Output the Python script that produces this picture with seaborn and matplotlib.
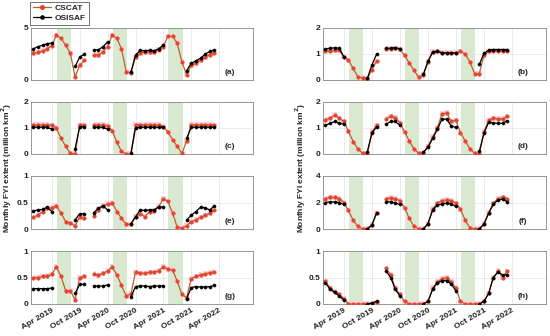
import numpy as np
import pandas as pd
import matplotlib
matplotlib.use("Agg")
import matplotlib.pyplot as plt
from matplotlib.lines import Line2D
import seaborn as sns

nan = np.nan
months = pd.date_range("2018-12-01", periods=40, freq="MS")
tick_dates = pd.date_range("2019-04-01", "2022-04-01", freq="6MS")
tick_labels = ["Apr 2019", "Oct 2019", "Apr 2020", "Oct 2020", "Apr 2021", "Oct 2021", "Apr 2022"]
bands = [("2019-05-05", "2019-08-05"), ("2020-05-05", "2020-08-05"), ("2021-05-05", "2021-08-05")]
series_names = ["CSCAT", "OSISAF"]
ylabel = "Monthly FYI extent (million km$^{\\mathbf{2}}$)"

cs_a = [2.55, 2.65, 2.8, 3.0, 3.3, 4.3, 4.0, 3.35, 2.55, 0.3, 1.4, 1.9, nan,
        2.4, 2.4, 2.7, 3.2, 4.3, 4.0, 3.0, 0.8, 0.7, 2.2, 2.6, 2.7, 2.7, 2.7, 2.9, 3.2,
        4.2, 4.2, 3.55, 1.75, 0.5, 1.4, 1.6, 1.9, 2.2, 2.45, 2.6]
os_a = [3.0, 3.2, 3.35, 3.5, 3.55, nan, nan, nan, nan, 1.3, 2.2, 2.5, nan,
        2.9, 2.9, 3.2, 3.65, nan, nan, nan, nan, 0.75, 2.4, 2.85, 2.8, 2.85, 2.8, 3.0, 3.35,
        nan, nan, nan, nan, 0.9, 1.6, 1.85, 2.1, 2.5, 2.75, 2.9]

cs_b = [1.12, 1.12, 1.15, 1.15, 0.9, 0.76, 0.45, 0.13, 0.08, 0.05, 0.4, 0.72, nan,
        1.2, 1.2, 1.22, 1.18, 0.95, 0.65, 0.38, 0.1, 0.2, 0.7, 1.08, 1.1, 1.05, 1.05, 1.05, 1.05,
        1.1, 1.0, 0.7, 0.25, 0.25, 0.95, 1.1, 1.12, 1.12, 1.12, 1.12]
os_b = [1.2, 1.22, 1.24, 1.22, 0.9, nan, nan, nan, nan, 0.06, 0.57, 1.0, nan,
        1.22, 1.22, 1.25, 1.2, nan, nan, nan, nan, 0.22, 0.72, 1.08, 1.1, 1.05, 1.04, 1.04, 1.04,
        nan, nan, nan, nan, 0.6, 1.02, 1.15, 1.17, 1.17, 1.17, 1.17]

cs_c = [1.12, 1.12, 1.12, 1.12, 1.1, 1.0, 0.6, 0.3, 0.02, 0.0, 1.1, 1.12, nan,
        1.12, 1.12, 1.12, 1.08, 0.9, 0.45, 0.1, 0.0, 0.0, 1.12, 1.12, 1.12, 1.12, 1.12, 1.12, 1.05,
        0.85, 0.55, 0.3, 0.02, 0.5, 1.12, 1.12, 1.12, 1.12, 1.12, 1.12]
os_c = [1.03, 1.03, 1.03, 1.03, 0.95, nan, nan, nan, nan, 0.2, 1.05, 1.05, nan,
        1.03, 1.03, 1.03, 0.95, nan, nan, nan, nan, 0.02, 1.0, 1.03, 1.03, 1.03, 1.03, 1.03, 1.03,
        nan, nan, nan, nan, 0.6, 1.03, 1.03, 1.03, 1.03, 1.03, 1.03]

cs_d = [1.32, 1.38, 1.5, 1.38, 1.25, 0.87, 0.48, 0.2, 0.03, 0.0, 0.85, 1.1, nan,
        1.35, 1.45, 1.4, 1.2, 0.85, 0.5, 0.2, 0.03, 0.03, 0.3, 0.65, 1.0, 1.55, 1.58, 1.25, 1.3,
        0.82, 0.5, 0.2, 0.03, 0.0, 0.85, 1.3, 1.38, 1.35, 1.35, 1.45]
os_d = [1.1, 1.18, 1.25, 1.18, 1.15, nan, nan, nan, nan, 0.08, 0.8, 1.05, nan,
        1.15, 1.25, 1.25, 1.1, nan, nan, nan, nan, 0.08, 0.25, 0.6, 0.95, 1.35, 1.33, 1.08, 1.02,
        nan, nan, nan, nan, 0.1, 0.8, 1.22, 1.2, 1.18, 1.18, 1.28]

cs_e = [0.22, 0.26, 0.33, 0.39, 0.40, 0.44, 0.30, 0.14, 0.11, 0.06, 0.22, 0.20, nan,
        0.25, 0.36, 0.44, 0.47, 0.49, 0.33, 0.20, 0.09, 0.09, 0.23, 0.29, 0.23, 0.33, 0.34, 0.42, 0.57,
        0.52, 0.30, 0.04, 0.02, 0.06, 0.14, 0.17, 0.22, 0.26, 0.30, 0.36]
os_e = [0.34, 0.36, 0.37, 0.41, 0.33, nan, nan, nan, nan, 0.17, 0.29, 0.29, nan,
        0.31, 0.39, 0.44, 0.36, nan, nan, nan, nan, 0.10, 0.23, 0.36, 0.35, 0.36, 0.36, 0.42, 0.41,
        nan, nan, nan, nan, 0.17, 0.26, 0.33, 0.41, 0.40, 0.36, 0.44]

cs_f = [2.3, 2.38, 2.38, 2.3, 2.0, 1.4, 0.65, 0.2, 0.02, 0.0, 0.3, 1.2, nan,
        2.3, 2.35, 2.28, 2.15, 1.6, 0.8, 0.2, 0.02, 0.0, 0.4, 1.5, 1.95, 2.15, 2.2, 2.15, 1.95,
        1.5, 0.65, 0.1, 0.0, 0.0, 0.4, 1.2, 1.95, 2.3, 2.4, 2.3]
os_f = [2.0, 2.05, 2.05, 2.0, 1.85, nan, nan, nan, nan, 0.0, 0.3, 1.22, nan,
        2.05, 2.05, 1.95, 1.85, nan, nan, nan, nan, 0.0, 0.4, 1.45, 1.8, 1.9, 1.95, 1.9, 1.7,
        nan, nan, nan, nan, 0.0, 0.35, 1.2, 1.85, 2.2, 2.25, 2.05]

cs_g = [0.50, 0.50, 0.52, 0.53, 0.56, 0.70, 0.52, 0.25, 0.25, 0.08, 0.50, 0.52, nan,
        0.57, 0.54, 0.58, 0.62, 0.70, 0.55, 0.35, 0.15, 0.19, 0.60, 0.58, 0.58, 0.60, 0.60, 0.63, 0.70,
        0.66, 0.64, 0.43, 0.18, 0.12, 0.48, 0.52, 0.55, 0.57, 0.59, 0.61]
os_g = [0.29, 0.29, 0.29, 0.29, 0.30, nan, nan, nan, nan, 0.20, 0.37, 0.37, nan,
        0.34, 0.34, 0.34, 0.36, nan, nan, nan, nan, 0.13, 0.33, 0.34, 0.34, 0.33, 0.34, 0.34, 0.34,
        nan, nan, nan, nan, 0.10, 0.31, 0.33, 0.32, 0.32, 0.33, 0.35]

cs_h = [0.43, 0.30, 0.23, 0.18, 0.10, 0.0, 0.0, 0.0, 0.0, 0.0, 0.0, 0.03, nan,
        0.67, 0.55, 0.30, 0.18, 0.05, 0.0, 0.0, 0.0, 0.0, 0.05, 0.30, 0.42, 0.48, 0.50, 0.42, 0.30,
        0.05, 0.0, 0.0, 0.0, 0.0, 0.05, 0.20, 0.50, 0.62, 0.50, 0.62]
os_h = [0.40, 0.28, 0.22, 0.15, 0.08, nan, nan, nan, nan, 0.0, 0.02, 0.05, nan,
        0.62, 0.50, 0.28, 0.15, nan, nan, nan, nan, 0.0, 0.05, 0.28, 0.40, 0.44, 0.44, 0.38, 0.25,
        nan, nan, nan, nan, 0.0, 0.05, 0.20, 0.50, 0.60, 0.55, 0.55]

panels = [
    ("(a)", cs_a, os_a, (0, 5), [0, 5], ["0", "5"]),
    ("(b)", cs_b, os_b, (0, 2), [0, 1, 2], ["0", "1", "2"]),
    ("(c)", cs_c, os_c, (0, 2), [0, 1, 2], ["0", "1", "2"]),
    ("(d)", cs_d, os_d, (0, 2), [0, 1, 2], ["0", "1", "2"]),
    ("(e)", cs_e, os_e, (0, 1), [0, 0.5, 1], ["0", "0.5", "1"]),
    ("(f)", cs_f, os_f, (0, 4), [0, 2, 4], ["0", "2", "4"]),
    ("(g)", cs_g, os_g, (0, 1), [0, 0.5, 1], ["0", "0.5", "1"]),
    ("(h)", cs_h, os_h, (0, 1), [0, 0.5, 1], ["0", "0.5", "1"]),
]

sns.set_style("white")
plt.rcParams["font.family"] = ["Liberation Sans", "DejaVu Sans"]
plt.rcParams["font.weight"] = "bold"
plt.rcParams["mathtext.default"] = "bf"

C_LINE = "#b9602c"
C_MARK = "#e2452a"
C_PINK = "#ffd0e0"
C_GREEN = "#d8e9cf"
FS = 6.0

W, H = 550, 336
fig = plt.figure(figsize=(W / 100, H / 100), dpi=100)
col_x = [(31, 222), (323, 223)]
row_y = [(28, 52), (102, 52), (176, 53), (251, 53)]


def seg_df(vals):
    v = np.asarray(vals, dtype=float)
    seg = np.cumsum(np.isnan(v))
    return pd.DataFrame({"date": months, "val": v, "seg": seg}).dropna()


for i, (lab, cs, osf, ylim, yt, ytl) in enumerate(panels):
    r, c = divmod(i, 2)
    x0, w = col_x[c]
    y0, h = row_y[r]
    ax = fig.add_axes([x0 / W, 1 - (y0 + h) / H, w / W, h / H])
    for b0, b1 in bands:
        ax.axvspan(pd.Timestamp(b0), pd.Timestamp(b1), color=C_GREEN, lw=0, zorder=0)
    csv = np.asarray(cs, dtype=float)
    d = 0.05 * (ylim[1] - ylim[0])
    ax.fill_between(months, csv - d, csv + d, step="mid", color=C_PINK, lw=0, zorder=1)
    sns.lineplot(data=seg_df(cs), x="date", y="val", units="seg", estimator=None,
                 color=C_LINE, linewidth=0.9, marker="o", markersize=2.6,
                 markerfacecolor=C_MARK, markeredgecolor=C_MARK, markeredgewidth=0.3,
                 legend=False, ax=ax, zorder=3)
    sns.lineplot(data=seg_df(osf), x="date", y="val", units="seg", estimator=None,
                 color="black", linewidth=0.9, marker="o", markersize=2.3,
                 markerfacecolor="black", markeredgecolor="black", markeredgewidth=0.3,
                 legend=False, ax=ax, zorder=4)
    ax.set_xlim(pd.Timestamp("2018-11-16"), pd.Timestamp("2022-11-10"))
    ax.set_ylim(*ylim)
    ax.set_yticks(yt)
    ax.set_yticklabels(ytl, fontsize=FS, fontweight="bold")
    ax.set_xticks(tick_dates)
    if r == 3:
        ax.set_xticklabels(tick_labels, rotation=30, ha="right", rotation_mode="anchor",
                           fontsize=FS, fontweight="bold")
    else:
        ax.set_xticklabels([])
    ax.set_xlabel("")
    ax.set_ylabel("")
    ax.grid(True, color="#e3e3e3", linewidth=0.5, zorder=0.5)
    ax.set_axisbelow(True)
    ax.tick_params(direction="in", length=2, width=0.5, pad=2, colors="#222222")
    for sp in ax.spines.values():
        sp.set_linewidth(0.6)
        sp.set_color("#888888")
    ax.text(0.897, 0.14, lab, transform=ax.transAxes, fontsize=FS, fontweight="bold",
            ha="center", va="center", zorder=5)

fig.text(7 / W, 0.5, ylabel, rotation=90, ha="center", va="center", fontsize=FS, fontweight="bold")
fig.text(301 / W, 0.5, ylabel, rotation=90, ha="center", va="center", fontsize=FS, fontweight="bold")

handles = [
    Line2D([], [], color=C_LINE, lw=0.9, marker="o", markersize=2.6, markerfacecolor=C_MARK,
           markeredgecolor=C_MARK),
    Line2D([], [], color="black", lw=0.9, marker="o", markersize=2.3, markerfacecolor="black"),
]
leg = fig.legend(handles, series_names, loc="upper left", bbox_to_anchor=(30 / W, 1 - 2 / H),
                 fontsize=FS, frameon=True, fancybox=False, borderpad=0.3, labelspacing=0.25,
                 handlelength=2.2, handletextpad=0.5, borderaxespad=0)
leg.get_frame().set_edgecolor("#333333")
leg.get_frame().set_linewidth(0.6)
for t in leg.get_texts():
    t.set_fontweight("bold")

fig.savefig("out.png", dpi=100)
